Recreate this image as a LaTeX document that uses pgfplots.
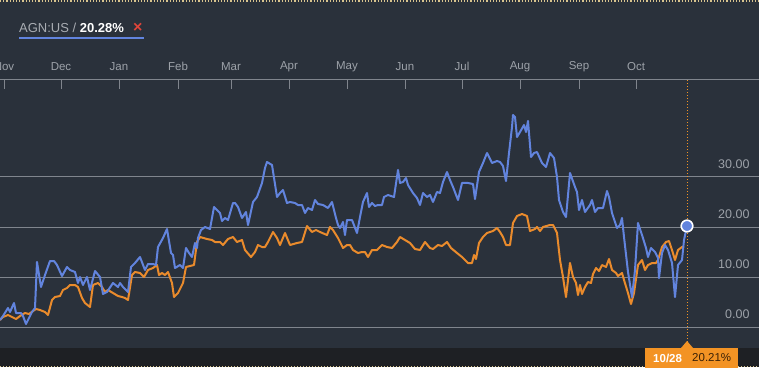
\documentclass[border=0pt]{standalone}
\usepackage{pgfplots}
\pgfplotsset{compat=1.18}
\usepackage{fontspec}
\setmainfont{Liberation Sans}
\definecolor{bg}{HTML}{2A313B}
\definecolor{barbg}{HTML}{1E2024}
\definecolor{gridc}{HTML}{80858D}
\definecolor{txt}{HTML}{9DA2A9}
\definecolor{titleg}{HTML}{A9ADB3}
\definecolor{blu}{HTML}{6284DE}
\definecolor{ora}{HTML}{EA8B2C}
\definecolor{lab}{HTML}{F39324}
\definecolor{labtxt}{HTML}{3B2106}
\definecolor{xred}{HTML}{E0453A}
\definecolor{dotc}{HTML}{D9C48E}
\begin{document}
\begin{tikzpicture}
\begin{axis}[
  width=759pt, height=367pt, scale only axis,
  xmin=0, xmax=759, ymin=-8, ymax=65.4,
  clip=false,
  axis background/.style={fill=bg},
  axis line style={draw=none},
  xtick=\empty,
  ytick={0,10,20,30},
  ymajorgrids,
  grid style={gridc, line width=1pt},
  major tick length=0pt,
  yticklabel pos=right,
  yticklabel style={anchor=south east, xshift=-6pt, yshift=4.5pt,
    font=\fontsize{12.5}{14}\selectfont, text=txt,
    /pgf/number format/.cd, fixed, fixed zerofill, precision=2, assume math mode=true},
]
% bottom bar
\fill[barbg] (axis cs:0,-4.2) rectangle (axis cs:759,-8);
% top and bottom dotted borders
\draw[dotc, line width=1.2pt, dotted] (axis cs:0,65.2) -- (axis cs:759,65.2);
\draw[dotc, line width=1pt, dotted] (axis cs:0,-7.85) -- (axis cs:759,-7.85);
% top month axis
\draw[gridc, line width=1pt] (axis cs:0,49.4) -- (axis cs:759,49.4);
\draw[gridc, line width=1pt]
  (axis cs:4,49.4) -- (axis cs:4,47.6)
  (axis cs:61,49.4) -- (axis cs:61,47.6)
  (axis cs:119,49.4) -- (axis cs:119,47.6)
  (axis cs:178,49.4) -- (axis cs:178,47.6)
  (axis cs:231,49.4) -- (axis cs:231,47.6)
  (axis cs:289,49.4) -- (axis cs:289,47.6)
  (axis cs:347,49.4) -- (axis cs:347,47.6)
  (axis cs:405,49.4) -- (axis cs:405,47.6)
  (axis cs:462,49.4) -- (axis cs:462,47.6)
  (axis cs:520,49.4) -- (axis cs:520,47.6)
  (axis cs:579,49.4) -- (axis cs:579,47.6)
  (axis cs:636,49.4) -- (axis cs:636,47.6);
\begin{scope}[every node/.style={text=txt, font=\fontsize{11.5}{13}\selectfont, inner sep=0pt}]
\node at (axis cs:4,52.1) {Nov};
\node at (axis cs:61,52.1) {Dec};
\node at (axis cs:119,52.1) {Jan};
\node at (axis cs:178,52.1) {Feb};
\node at (axis cs:231,52.1) {Mar};
\node at (axis cs:289,52.1) {Apr};
\node at (axis cs:347,52.1) {May};
\node at (axis cs:405,52.1) {Jun};
\node at (axis cs:462,52.1) {Jul};
\node at (axis cs:520,52.1) {Aug};
\node at (axis cs:579,52.1) {Sep};
\node at (axis cs:636,52.1) {Oct};
\end{scope}
% title
\node[anchor=west, inner sep=0pt, font=\fontsize{13}{15}\selectfont] at (axis cs:19,59.8)
  {\textcolor{titleg}{AGN:US /} \textcolor{white}{\bfseries 20.28\%}};
\node[anchor=west, inner sep=0pt, text=xred, font=\fontsize{16}{16}\selectfont\bfseries] at (axis cs:133,59.9) {×};
\draw[blu, line width=2pt] (axis cs:19,57.86) -- (axis cs:144,57.86);
% vertical dotted marker line
\draw[lab, line width=1pt, dotted] (axis cs:687,49.4) -- (axis cs:687,-3);

\addplot[ora, line width=2pt, line join=round] coordinates {
(0,1.4)(3,2.0)(8,2.4)(12,2.0)(16,1.6)(20,2.2)(25,2.8)(29,2.6)(33,3.2)(36,3.6)(40,3.4)(45,3.0)(48,2.4)(52,5.4)(55,6.0)(60,6.2)(63,7.4)(67,7.8)(70,8.4)(75,8.4)(78,8.0)(82,5.8)(85,4.8)(90,4.0)(93,8.4)(98,8.8)(102,8.0)(105,7.0)(108,7.4)(113,6.8)(118,6.2)(122,6.0)(125,5.8)(128,5.4)(132,10.4)(135,11.0)(140,10.8)(144,10.0)(148,11.4)(153,11.8)(157,12.4)(159,10.4)(162,10.8)(165,10.4)(168,11.0)(172,8.8)(174,6.0)(178,6.8)(183,8.8)(186,12.0)(190,12.2)(194,12.4)(197,17.0)(200,18.0)(207,17.6)(212,17.4)(215,17.0)(220,17.0)(223,16.4)(228,17.6)(233,18.0)(237,17.0)(242,17.4)(245,15.4)(251,14.0)(255,15.0)(258,16.4)(262,16.0)(265,16.0)(268,17.0)(273,19.0)(277,17.8)(280,16.4)(285,18.8)(290,16.4)(297,16.8)(302,17.0)(307,20.2)(312,19.0)(316,19.4)(320,19.0)(327,18.4)(330,20.0)(333,19.4)(338,17.8)(343,15.8)(347,16.4)(350,16.4)(353,15.4)(358,14.8)(362,15.0)(365,15.0)(368,14.0)(372,15.4)(377,15.4)(382,16.4)(387,16.0)(392,15.8)(397,17.0)(400,18.0)(405,17.4)(410,16.8)(415,15.6)(420,15.4)(425,17.0)(430,15.8)(433,15.6)(438,16.4)(442,16.2)(447,17.0)(451,15.8)(457,14.8)(462,14.0)(465,13.4)(468,12.8)(472,12.8)(474,14.4)(476,13.6)(479,16.8)(483,18.0)(487,18.8)(493,19.2)(497,19.8)(500,19.0)(503,18.0)(506,16.4)(510,16.4)(513,20.8)(517,22.2)(522,22.6)(527,22.2)(530,19.2)(535,19.6)(537,20.0)(540,19.2)(543,20.0)(550,20.4)(553,20.4)(557,18.8)(560,13.4)(563,10.0)(566,6.0)(570,12.8)(573,10.0)(576,8.8)(578,6.4)(580,8.4)(582,6.6)(585,8.0)(588,9.0)(591,8.8)(593,10.6)(596,11.8)(599,11.2)(602,12.4)(606,12.0)(609,13.6)(612,11.4)(616,10.8)(618,10.2)(622,10.8)(624,9.4)(628,6.8)(631,4.6)(634,6.8)(638,12.4)(642,13.4)(645,11.4)(648,12.4)(652,12.8)(656,12.8)(658,13.4)(662,16.0)(666,17.0)(669,17.2)(672,15.4)(675,13.4)(678,15.4)(682,16.0)(684,16.0)
};
\addplot[blu, line width=2pt, line join=round] coordinates {
(0,1.4)(3,2.2)(8,3.8)(10,3.0)(14,4.8)(16,2.8)(21,2.8)(23,2.2)(26,0.6)(29,1.8)(32,3.0)(35,3.8)(37,13.0)(41,8.0)(45,10.4)(50,13.2)(54,13.2)(57,12.4)(62,10.2)(67,12.0)(70,11.4)(75,11.0)(78,8.8)(80,10.0)(83,8.4)(87,10.0)(90,7.4)(95,11.2)(100,10.0)(103,6.6)(107,7.0)(113,8.8)(118,8.0)(120,8.8)(123,8.0)(128,7.0)(131,12.0)(135,12.8)(140,14.0)(145,11.4)(148,12.6)(153,12.6)(156,12.4)(158,16.0)(163,17.8)(167,19.6)(171,14.8)(173,14.4)(175,11.8)(180,12.4)(183,11.8)(186,15.8)(189,14.8)(192,14.0)(195,16.8)(197,15.8)(198,17.8)(201,19.4)(205,20.0)(210,19.6)(214,24.0)(217,23.4)(220,22.8)(222,21.2)(225,21.8)(228,21.4)(233,24.8)(235,24.8)(238,24.0)(242,21.8)(246,23.0)(248,20.4)(253,25.0)(257,26.0)(262,28.8)(265,31.8)(267,33.0)(272,32.4)(277,26.0)(280,26.8)(283,27.4)(287,24.8)(290,25.0)(295,24.8)(298,24.4)(302,24.4)(305,22.8)(308,23.8)(312,23.4)(315,25.4)(318,24.6)(323,24.4)(328,23.8)(332,25.0)(336,21.8)(338,20.4)(340,19.8)(343,21.0)(345,18.4)(347,21.4)(352,21.4)(357,18.8)(360,22.0)(363,25.0)(367,26.8)(369,24.0)(372,24.8)(375,24.2)(378,24.4)(382,24.4)(384,26.0)(388,26.4)(394,26.0)(398,31.4)(400,28.8)(403,29.0)(406,29.8)(408,28.4)(413,26.8)(417,25.8)(420,24.4)(423,26.8)(427,26.0)(430,26.4)(433,25.0)(437,27.0)(440,26.8)(443,29.0)(447,31.0)(450,29.4)(453,28.0)(458,25.4)(462,28.8)(468,28.8)(473,28.6)(475,25.6)(479,31.0)(483,32.8)(487,34.8)(492,32.8)(497,33.2)(500,33.0)(503,32.2)(506,29.2)(509,34.8)(512,40.0)(513,42.4)(515,42.0)(517,38.0)(520,39.0)(524,40.4)(526,39.0)(528,41.2)(531,34.0)(534,34.8)(537,35.0)(542,32.8)(546,32.0)(550,34.8)(554,33.8)(557,30.0)(559,25.4)(563,23.0)(566,22.0)(570,30.8)(575,28.0)(577,27.0)(579,23.4)(582,25.4)(585,23.0)(590,24.4)(592,25.4)(595,23.0)(598,23.8)(603,23.8)(607,27.2)(609,26.0)(612,22.8)(617,19.8)(620,20.4)(622,21.8)(624,18.0)(628,11.0)(632,6.0)(635,11.4)(638,20.8)(642,18.4)(646,15.8)(648,14.0)(651,15.8)(655,15.0)(658,13.8)(659,9.8)(662,14.8)(665,16.4)(668,15.4)(672,12.8)(675,6.0)(678,12.4)(682,13.4)(684,17.4)(687,20.2)
};
\addplot[only marks, mark=*, mark size=5.8pt, mark options={fill=blu, draw=white, line width=1.6pt}] coordinates {(687,20.2)};
% bottom label
\fill[lab] (axis cs:645,-4.2) rectangle (axis cs:738,-8.5);
\fill[lab] (axis cs:681,-4.2) -- (axis cs:687,-2.8) -- (axis cs:693,-4.2) -- cycle;
\node[anchor=west, inner sep=0pt, text=white, font=\fontsize{11.5}{13}\selectfont\bfseries] at (axis cs:653,-6.2) {10/28};
\node[anchor=west, inner sep=0pt, text=labtxt, font=\fontsize{11.5}{13}\selectfont] at (axis cs:692,-6.2) {20.21\%};
\end{axis}
\pgfresetboundingbox
\path[use as bounding box] (current axis.south west) rectangle (current axis.north east);
\end{tikzpicture}
\end{document}
